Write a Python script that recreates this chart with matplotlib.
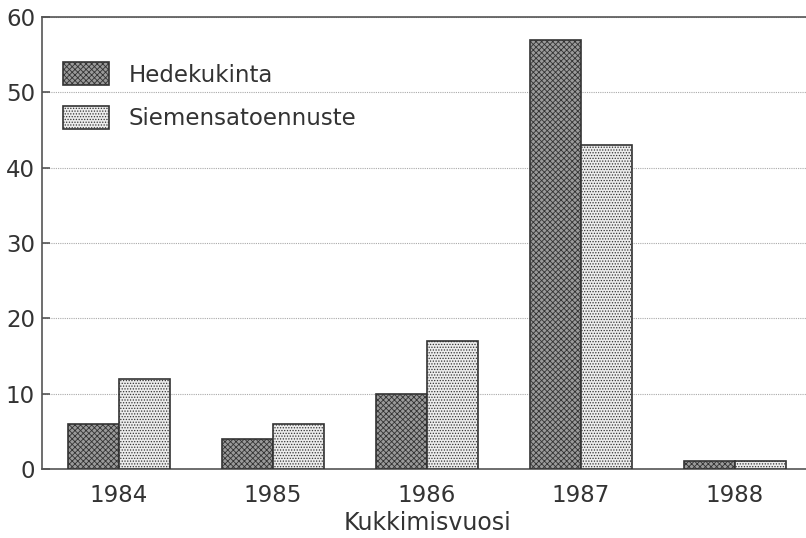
import numpy as np
import matplotlib.pyplot as plt
from matplotlib.patches import Patch

plt.rcParams['font.family'] = ['DejaVu Sans']
plt.rcParams['hatch.linewidth'] = 0.6

years = ['1984', '1985', '1986', '1987', '1988']
hedekukinta = [6, 4, 10, 57, 1]
siemensato = [12, 6, 17, 43, 1]

txt = '#333333'
fig = plt.figure(figsize=(8.06, 5.38), dpi=100)
ax = fig.add_axes([42 / 806, 1 - 469 / 538, 770 / 806, 452 / 538])

x = np.arange(len(years))
w = 0.333
plt.rcParams['hatch.color'] = '#3a3a3a'
ax.bar(x - w / 2, hedekukinta, w, color='#9a9a9a', hatch='xxxxxx',
       edgecolor='#333333', linewidth=1.2, zorder=3)
plt.rcParams['hatch.color'] = '#b0b0b0'
ax.bar(x + w / 2, siemensato, w, color='#ececec', hatch='......',
       edgecolor='#333333', linewidth=1.2, zorder=3)

ax.set_xlim(-0.5, 4.5)
ax.set_ylim(0, 60)
ax.set_yticks(range(0, 61, 10))
ax.set_xticks(x)
ax.set_xticklabels(years)
ax.tick_params(axis='x', length=0, pad=11, labelsize=16.5, labelcolor=txt)
ax.tick_params(axis='y', length=6, width=1.2, direction='in', pad=5,
               labelsize=16.5, labelcolor=txt, color='#555555')
ax.grid(axis='y', linestyle=(0, (1, 1)), color='#aaaaaa', linewidth=0.8, zorder=0)
for s in ['right']:
    ax.spines[s].set_visible(False)
for s in ['left', 'top', 'bottom']:
    ax.spines[s].set_color('#555555')
    ax.spines[s].set_linewidth(1.2)

ax.set_xlabel('Kukkimisvuosi', fontsize=17, color=txt, labelpad=3)

plt.rcParams['hatch.color'] = '#3a3a3a'
h1 = Patch(facecolor='#9a9a9a', hatch='xxxxxx', edgecolor='#333333', linewidth=1.2)
plt.rcParams['hatch.color'] = '#b0b0b0'
h2 = Patch(facecolor='#ececec', hatch='......', edgecolor='#333333', linewidth=1.2)
leg = ax.legend([h1, h2], ['Hedekukinta', 'Siemensatoennuste'], loc='upper left',
                bbox_to_anchor=(0.001, 0.945), frameon=False, fontsize=16.5,
                handlelength=2.0, handleheight=1.15, handletextpad=0.85,
                labelspacing=0.85)
for t in leg.get_texts():
    t.set_color(txt)

fig.savefig('out.png', dpi=100)
